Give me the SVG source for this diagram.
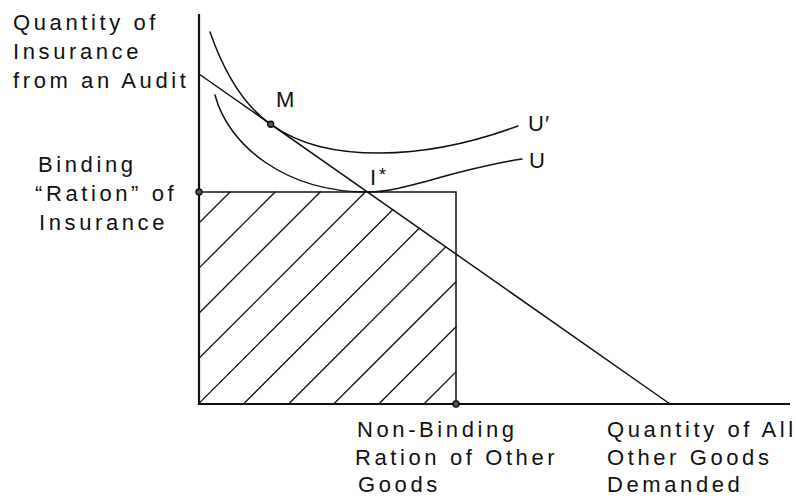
<svg xmlns="http://www.w3.org/2000/svg" width="796" height="501" viewBox="0 0 796 501">
<style>
  .ln{fill:none;stroke:#111;stroke-width:1.5;stroke-linecap:round}
  .ax{fill:none;stroke:#111;stroke-width:2.2}
  .ht{fill:none;stroke:#111;stroke-width:1.3;stroke-linecap:round}
  .lb{font-family:"Liberation Sans",Arial,Helvetica,sans-serif;font-size:22px;letter-spacing:3.6px;fill:#111}
  .pt{fill:#555;stroke:#111;stroke-width:1.4}
</style>
<rect width="796" height="501" fill="#fff"/>
<g id="axes">
  <line class="ax" x1="199" y1="14" x2="199" y2="405"/>
  <line class="ax" x1="198" y1="404" x2="790" y2="404"/>
</g>
<g id="hatch">
  <line class="ht" x1="199" y1="223" x2="230" y2="192"/>
  <line class="ht" x1="199" y1="268.1" x2="275.1" y2="192"/>
  <line class="ht" x1="199" y1="313.2" x2="320.2" y2="192"/>
  <line class="ht" x1="199" y1="358.3" x2="365.3" y2="192"/>
  <line class="ht" x1="199" y1="403.4" x2="392.7" y2="209.7"/>
  <line class="ht" x1="243.5" y1="404" x2="419.2" y2="228.3"/>
  <line class="ht" x1="288.6" y1="404" x2="445.7" y2="246.9"/>
  <line class="ht" x1="333.7" y1="404" x2="456" y2="281.7"/>
  <line class="ht" x1="378.8" y1="404" x2="456" y2="326.8"/>
  <line class="ht" x1="423.9" y1="404" x2="456" y2="371.9"/>
</g>
<g id="ration-box">
  <polyline class="ln" points="199,192 456,192 456,404"/>
</g>
<g id="budget-line">
  <line class="ln" x1="199" y1="74" x2="670" y2="404"/>
</g>
<g id="curve-U-prime">
  <path class="ln" d="M210,32 C225,75 246,107 270.7,124.3 C300,145 335,153 380,153 C430,153 480,140 518,126"/>
</g>
<g id="curve-U">
  <path class="ln" d="M215,95 C228,145 285,192 368,192 C405,192 450,170 522,159"/>
</g>
<g id="points">
  <circle class="pt" cx="270.7" cy="124.3" r="3"/>
  <circle class="pt" cx="199" cy="192" r="3"/>
  <circle class="pt" cx="456" cy="404" r="3"/>
</g>
<g id="labels">
  <text class="lb" x="13" y="29.5">Quantity of</text>
  <text class="lb" x="13" y="58.5">Insurance</text>
  <text class="lb" x="13" y="87.5">from an Audit</text>
  <text class="lb" x="38" y="172">Binding</text>
  <text class="lb" x="35" y="201">“Ration” of</text>
  <text class="lb" x="39" y="230">Insurance</text>
  <text class="lb" x="276" y="106.7">M</text>
  <text class="lb" x="370" y="185">I</text>
  <text class="lb" x="379" y="180.5" style="font-size:18px">*</text>
  <text class="lb" x="528" y="130.7" style="letter-spacing:1px">U′</text>
  <text class="lb" x="529" y="168.3">U</text>
  <text class="lb" x="357" y="437">Non-Binding</text>
  <text class="lb" x="355" y="464.5">Ration of Other</text>
  <text class="lb" x="358" y="492">Goods</text>
  <text class="lb" x="607" y="437">Quantity of All</text>
  <text class="lb" x="607" y="464.5">Other Goods</text>
  <text class="lb" x="607" y="492">Demanded</text>
</g>
</svg>
